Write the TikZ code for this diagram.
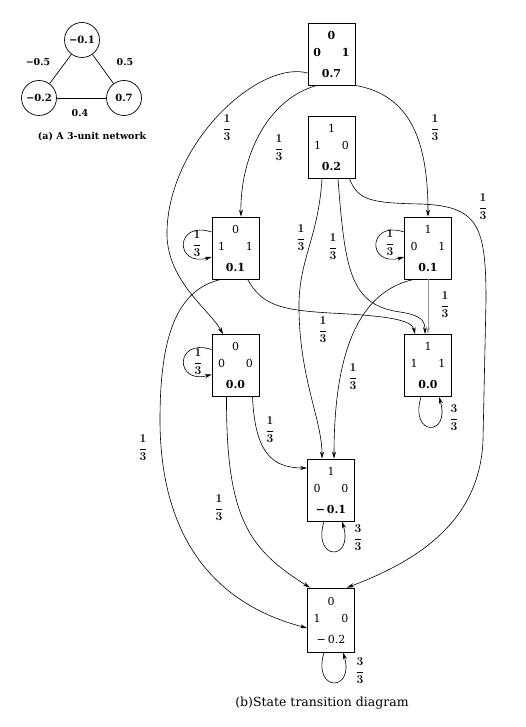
\documentclass[tikz,border=0pt]{standalone}
\usepackage{amsmath}
\usepackage{fontspec}
\setmainfont{DejaVu Serif}
\usepackage{tikz}
\usetikzlibrary{arrows.meta}

\tikzset{
  unit/.style={draw, circle, line width=0.7pt, minimum size=35pt, inner sep=0pt, font=\bfseries\fontsize{10}{12}\selectfont},
  wlabel/.style={font=\bfseries\fontsize{9.5}{11}\selectfont, inner sep=1pt},
  state/.style={draw, line width=0.8pt, minimum width=47pt, minimum height=62pt, inner sep=0pt, align=center, font=\fontsize{11}{17}\selectfont},
  trans/.style={line width=0.6pt, arrows={-Stealth[length=7pt,width=4pt]}},
  prob/.style={font=\fontsize{11.5}{13}\selectfont\boldmath, inner sep=1pt}
}
\newcommand{\unitcfg}[4]{#1\\#2\hspace{1.9em}#3\\[4pt]#4}

\begin{document}
\begin{tikzpicture}[x=1pt,y=-1pt]
        \useasboundingbox (0,0) rectangle (525,727);
        % (a) network
        \node[unit] (u1) at (82,40) {−0.1};
        \node[unit] (u2) at (39,98) {−0.2};
        \node[unit] (u3) at (124,98) {0.7};
        \draw[line width=0.7pt] (u1) -- (u2);
        \draw[line width=0.7pt] (u1) -- (u3);
        \draw[line width=0.7pt] (u2) -- (u3);
        \node[wlabel] (w12) at (38,62) {−0.5};
        \node[wlabel] (w13) at (125,62) {0.5};
        \node[wlabel] (w23) at (80,113) {0.4};
        \node[wlabel] (capa) at (92,137) {(a) A 3-unit network};
        % (b) states
        \node[state] (s001) at (331.5,54) {\unitcfg{\textbf{0}}{\textbf{0}}{\textbf{1}}{\textbf{0.7}}};
        \node[state] (s110) at (331.5,147.5) {\unitcfg{1}{1}{0}{\textbf{0.2}}};
        \node[state] (s011) at (235.5,248) {\unitcfg{0}{1}{1}{\textbf{0.1}}};
        \node[state] (s101) at (428,248) {\unitcfg{1}{0}{1}{\textbf{0.1}}};
        \node[state] (s000) at (235.5,365.5) {\unitcfg{0}{0}{0}{\textbf{0.0}}};
        \node[state] (s111) at (428,365.5) {\unitcfg{1}{1}{1}{\textbf{0.0}}};
        \node[state] (s100) at (331,490) {\unitcfg{1}{0}{0}{\textbf{−\,0.1}}};
        \node[state, minimum height=64pt] (s010) at (331,620) {\unitcfg{0}{1}{0}{−\,0.2}};
        % from 0.7
        \draw[trans] ([xshift=-14.5pt]s001.south) .. controls (265,100) and (240,160) .. ([xshift=5.5pt]s011.north);
        \draw[trans] (s001.south east) .. controls (410,95) and (428,140) .. (s101.north);
        \draw[trans] ([yshift=-19pt]s001.west) .. controls (260,60) and (170,140) .. (167,230)
            .. controls (165,280) and (210,310) .. ([xshift=-12.5pt]s000.north);
        % from 0.2
        \draw[trans] ([xshift=-9.5pt]s110.south) .. controls (318,240) and (298,260) .. (299,310)
            .. controls (300,380) and (322,420) .. ([xshift=-9pt]s100.north);
        \draw[trans] ([xshift=6.5pt]s110.south) .. controls (345,270) and (350,305) .. (400,312)
            .. controls (420,315) and (425,320) .. ([xshift=-3pt]s111.north);
        \draw[trans] ([xshift=18pt]s110.south) .. controls (358,200) and (370,203) .. (420,204)
            .. controls (478,206) and (486,225) .. (486,300) -- (483,440)
            .. controls (480,520) and (420,560) .. ([xshift=16pt]s010.north);
        % from 0.1 (011)
        \draw[trans] ([xshift=12pt]s011.south) .. controls (262,305) and (280,310) .. (330,313)
            .. controls (390,316) and (412,320) .. ([xshift=-13pt]s111.north);
        \draw[trans] ([xshift=-14.5pt]s011.south) .. controls (175,290) and (160,340) .. (160,420)
            .. controls (160,520) and (200,600) .. ([yshift=-8pt]s010.west);
        \draw[trans] ([yshift=16pt]s011.west) .. controls +(-37,-12) and +(-37,10) .. ([yshift=-9pt]s011.west);
        % from 0.1 (101)
        \draw[trans, draw=gray!80] (s101.south) -- (s111.north);
        \draw[trans] ([xshift=-14pt]s101.south) .. controls (365,290) and (334,340) .. ([xshift=3pt]s100.north);
        \draw[trans] ([yshift=16pt]s101.west) .. controls +(-37,-12) and +(-37,10) .. ([yshift=-9pt]s101.west);
        % from 0.0 (000)
        \draw[trans] ([xshift=17pt]s000.south) .. controls (255,450) and (270,468) .. ([yshift=22pt]s100.west);
        \draw[trans] ([xshift=-9pt]s000.south) .. controls (226,520) and (250,550) .. ([xshift=-21pt]s010.north);
        \draw[trans] ([yshift=16pt]s000.west) .. controls +(-37,-12) and +(-37,10) .. ([yshift=-9pt]s000.west);
        % stable states
        \draw[trans] ([xshift=-7pt]s111.south) .. controls +(-12,40) and +(12,40) .. ([xshift=11pt]s111.south);
        \draw[trans] ([xshift=-7pt]s100.south) .. controls +(-12,40) and +(12,40) .. ([xshift=11pt]s100.south);
        \draw[trans] ([xshift=-7pt]s010.south) .. controls +(-12,40) and +(12,40) .. ([xshift=12pt]s010.south);
        % probabilities
        \node[prob] (pae) at (227,128) {$\dfrac{1}{3}$};
        \node[prob] (pac) at (279,148) {$\dfrac{1}{3}$};
        \node[prob] (pad) at (435,128) {$\dfrac{1}{3}$};
        \node[prob] (pbg) at (301,238) {$\dfrac{1}{3}$};
        \node[prob] (pbf) at (333,247) {$\dfrac{1}{3}$};
        \node[prob] (pbh) at (483,207) {$\dfrac{1}{3}$};
        \node[prob] (pcf) at (323,330) {$\dfrac{1}{3}$};
        \node[prob] (pch) at (143,448) {$\dfrac{1}{3}$};
        \node[prob] (pdf) at (445,305) {$\dfrac{1}{3}$};
        \node[prob] (pdg) at (353,377) {$\dfrac{1}{3}$};
        \node[prob] (peg) at (270,430) {$\dfrac{1}{3}$};
        \node[prob] (peh) at (219,508) {$\dfrac{1}{3}$};
        \node[prob] (pcc) at (197,244) {$\dfrac{1}{3}$};
        \node[prob] (pdd) at (390,243) {$\dfrac{1}{3}$};
        \node[prob] (pee) at (198,362) {$\dfrac{1}{3}$};
        \node[prob] (pff) at (454,418) {$\dfrac{3}{3}$};
        \node[prob] (pgg) at (358,538) {$\dfrac{3}{3}$};
        \node[prob] (phh) at (360,671) {$\dfrac{3}{3}$};
        \node[font=\fontsize{12.5}{14}\selectfont] (capb) at (322,703) {(b)State transition diagram};
    \end{tikzpicture}
\end{document}
